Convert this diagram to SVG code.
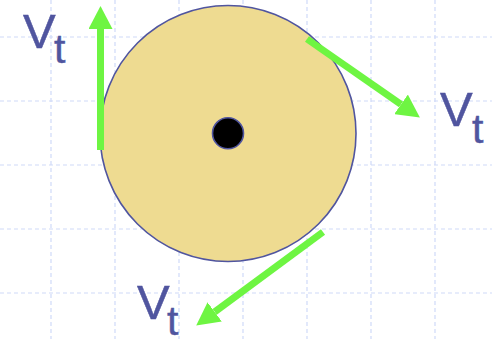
<svg xmlns="http://www.w3.org/2000/svg" width="492" height="339" viewBox="0 0 492 339">
  <style>
    .grid line { stroke: #cfdaf8; stroke-width: 1.2; stroke-dasharray: 4 3; }
    .lbl { font-family: "Liberation Sans", Arial, sans-serif; fill: #50559f; stroke: #50559f; stroke-width: 0.5; }
    .v { font-size: 49px; }
    .t { font-size: 41px; }
    .arrow { stroke: #6ef542; stroke-width: 7; fill: none; marker-end: url(#head); }
  </style>
  <defs>
    <marker id="head" viewBox="0 0 23 24" markerWidth="23" markerHeight="24" refX="0" refY="12" orient="auto" markerUnits="userSpaceOnUse">
      <path d="M0,0 L23,12 L0,24 z" fill="#6ef542"/>
    </marker>
  </defs>
  <rect width="492" height="339" fill="#ffffff"/>
  <g class="grid" id="grid">
    <line x1="51" y1="0" x2="51" y2="339"/>
    <line x1="115" y1="0" x2="115" y2="339"/>
    <line x1="179" y1="0" x2="179" y2="339"/>
    <line x1="243" y1="0" x2="243" y2="339"/>
    <line x1="307" y1="0" x2="307" y2="339"/>
    <line x1="371" y1="0" x2="371" y2="339"/>
    <line x1="435" y1="0" x2="435" y2="339"/>
    <line x1="0" y1="37" x2="492" y2="37"/>
    <line x1="0" y1="101" x2="492" y2="101"/>
    <line x1="0" y1="165" x2="492" y2="165"/>
    <line x1="0" y1="229" x2="492" y2="229"/>
    <line x1="0" y1="293" x2="492" y2="293"/>
  </g>
  <g id="wheel">
    <circle cx="228" cy="133.5" r="128" fill="#eedb91" stroke="#50559f" stroke-width="1.6"/>
  </g>
  <g id="axle">
    <circle cx="228" cy="133.3" r="15.5" fill="#000000" stroke="#50559f" stroke-width="1.6"/>
  </g>
  <g id="connectors">
    <line class="arrow" x1="100.5" y1="150" x2="100.5" y2="29"/>
    <line class="arrow" x1="307" y1="39" x2="401" y2="104.4"/>
    <line class="arrow" x1="323" y1="232" x2="214.7" y2="311.9"/>
  </g>
  <g id="label-top-left">
    <text class="lbl" x="23" y="48"><tspan class="v">V</tspan><tspan class="t" x="54" y="63">t</tspan></text>
  </g>
  <g id="label-right">
    <text class="lbl" x="440" y="126"><tspan class="v">V</tspan><tspan class="t" x="472" y="143">t</tspan></text>
  </g>
  <g id="label-bottom">
    <text class="lbl" x="137" y="319"><tspan class="v">V</tspan><tspan class="t" x="167" y="335">t</tspan></text>
  </g>
</svg>
